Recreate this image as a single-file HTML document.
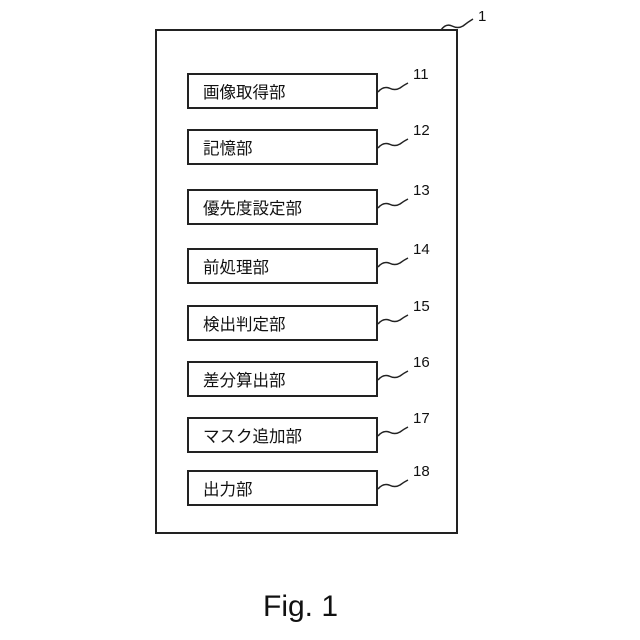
<!DOCTYPE html>
<html><head><meta charset="utf-8"><style>
html,body{margin:0;padding:0;background:#fff;}
body{width:640px;height:640px;position:relative;overflow:hidden;font-family:"Liberation Sans","Noto Sans CJK JP",sans-serif;}
.outer{position:absolute;left:155px;top:29px;width:303px;height:505px;border:2px solid #222;box-sizing:border-box;}
.b{position:absolute;left:187px;width:191px;height:36px;border:2px solid #222;box-sizing:border-box;font-size:16.5px;line-height:36px;padding-left:14px;color:#111;}
.n{position:absolute;font-size:15px;color:#111;}
svg{position:absolute;left:0;top:0;}
</style></head><body>
<div class="outer"></div>
<div class="b" style="top:73px">画像取得部</div>
<div class="b" style="top:129px">記憶部</div>
<div class="b" style="top:189px">優先度設定部</div>
<div class="b" style="top:248px">前処理部</div>
<div class="b" style="top:305px">検出判定部</div>
<div class="b" style="top:361px">差分算出部</div>
<div class="b" style="top:417px">マスク追加部</div>
<div class="b" style="top:470px">出力部</div>
<svg width="640" height="640" fill="none" stroke="#222" stroke-width="1.5">
<path d="M441 30 q5 -7 11 -4 q6 3 11 0 q5 -4 10 -7"/>
<g id="s"><path d="M378 92 q5 -6 11 -4 q6 3 11 0 q4 -3 8 -5"/></g>
<use href="#s" y="56"/><use href="#s" y="116"/><use href="#s" y="175"/>
<use href="#s" y="232"/><use href="#s" y="288"/><use href="#s" y="344"/><use href="#s" y="397"/>
</svg>
<div class="n" style="left:478px;top:8px">1</div>
<div class="n" style="left:413px;top:66px">11</div>
<div class="n" style="left:413px;top:122px">12</div>
<div class="n" style="left:413px;top:182px">13</div>
<div class="n" style="left:413px;top:241px">14</div>
<div class="n" style="left:413px;top:298px">15</div>
<div class="n" style="left:413px;top:354px">16</div>
<div class="n" style="left:413px;top:410px">17</div>
<div class="n" style="left:413px;top:463px">18</div>
<div style="position:absolute;left:263px;top:590px;font-size:30px;color:#111;">Fig. 1</div>
</body></html>
